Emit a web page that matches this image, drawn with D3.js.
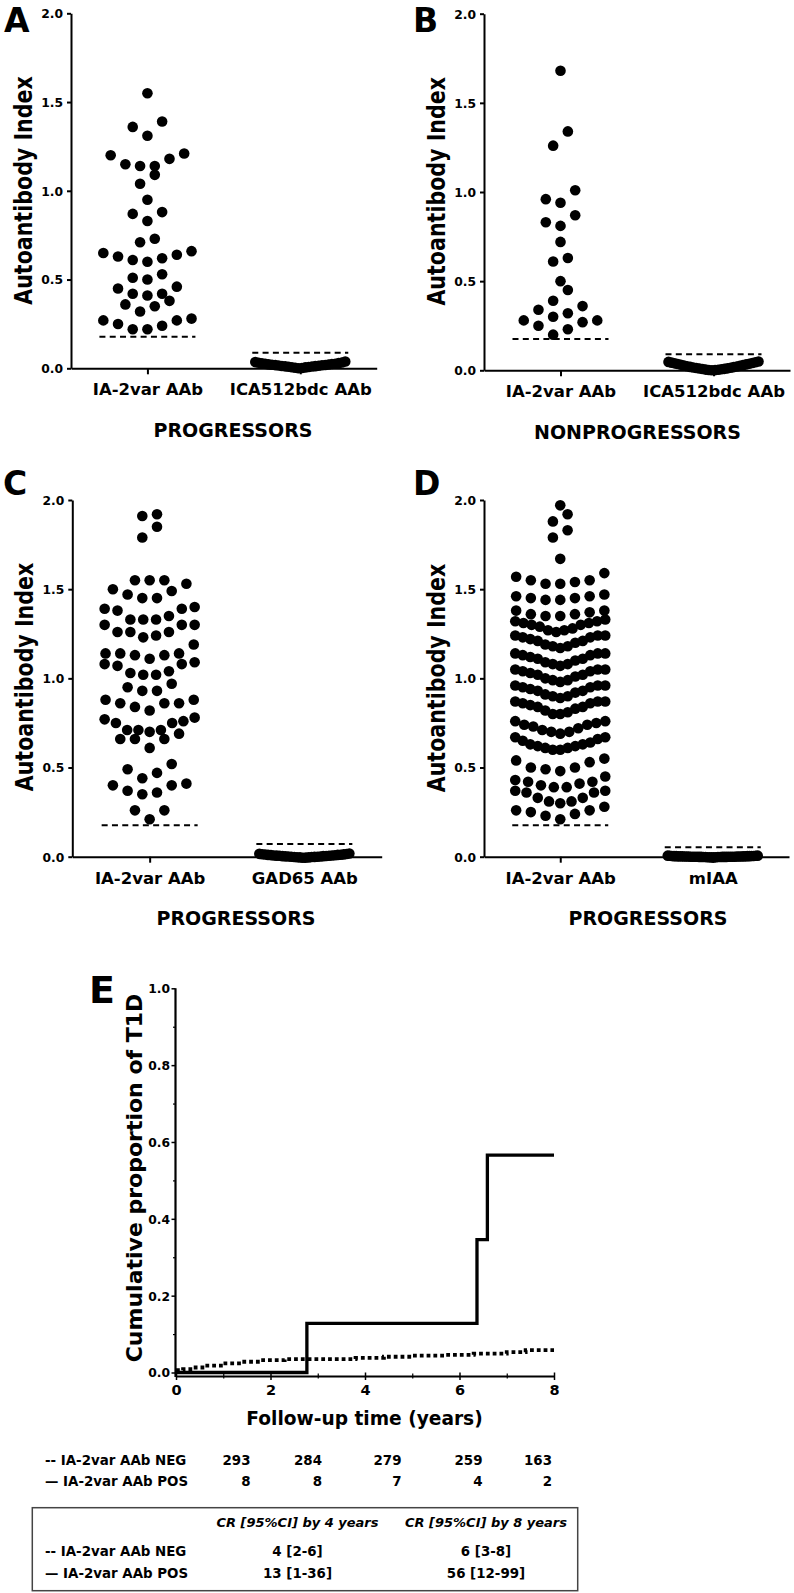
<!DOCTYPE html>
<html>
<head>
<meta charset="utf-8">
<script src="https://cdn.jsdelivr.net/npm/d3@7"></script>
<style>
  html, body { margin: 0; padding: 0; background: #fff; overflow: hidden; }
  svg { display: block; }
</style>
</head>
<body>
<script>
// ---------------- DATA ----------------
const panelLetters = ["A", "B", "C", "D"];
const catsA = ["IA-2var AAb", "ICA512bdc AAb"];
const catsB = ["IA-2var AAb", "ICA512bdc AAb"];
const catsC = ["IA-2var AAb", "GAD65 AAb"];
const catsD = ["IA-2var AAb", "mIAA"];
const groupTitles = ["PROGRESSORS", "NONPROGRESSORS", "PROGRESSORS", "PROGRESSORS"];
const yTicksAD = [0, 0.5, 1.0, 1.5, 2.0];
const yLabelAD = "Autoantibody Index";

// Panel A: progressors
const iaA = [1.55, 1.39, 1.36, 1.31, 1.21, 1.20, 1.18, 1.14, 1.14, 1.15, 1.09, 1.04, 0.95,
  0.88, 0.87, 0.83, 0.73, 0.71, 0.66, 0.65, 0.64, 0.63, 0.62, 0.61, 0.60,
  0.53, 0.51, 0.50, 0.46, 0.45, 0.42, 0.42, 0.41, 0.38, 0.36, 0.35, 0.32,
  0.28, 0.27, 0.27, 0.25, 0.24, 0.22, 0.22];
const icaA = [0.000, 0.002, 0.003, 0.005, 0.006, 0.007, 0.009, 0.010, 0.011, 0.012, 0.013, 0.014,
  0.016, 0.017, 0.018, 0.019, 0.020, 0.021, 0.022, 0.024, 0.025, 0.026, 0.028, 0.029,
  0.031, 0.033, 0.035, 0.038];
const thrA = [0.178, 0.088];

// Panel B: nonprogressors
const iaB = [1.68, 1.34, 1.26, 1.01, 0.96, 0.94, 0.87, 0.83, 0.81, 0.72, 0.63, 0.61, 0.50, 0.45,
  0.39, 0.36, 0.34, 0.32, 0.30, 0.28, 0.28, 0.27, 0.25, 0.23, 0.20];
const icaB = [0.000, 0.001, 0.002, 0.003, 0.004, 0.006, 0.007, 0.008, 0.010, 0.011, 0.013, 0.014,
  0.016, 0.018, 0.019, 0.021, 0.023, 0.025, 0.027, 0.029, 0.031, 0.033, 0.035, 0.037,
  0.039, 0.041, 0.043, 0.045, 0.047, 0.049];
const thrB = [0.176, 0.090];

// Panel C: progressors, GAD65
const iaC = [1.91, 1.92, 1.85, 1.79, 1.53, 1.55, 1.55, 1.55, 1.50, 1.49, 1.45, 1.45, 1.47,
  1.38, 1.39, 1.40, 1.39, 1.35, 1.33, 1.33, 1.33, 1.30, 1.30, 1.30, 1.26, 1.24, 1.23, 1.26, 1.26,
  1.19, 1.14, 1.13, 1.13, 1.14, 1.14, 1.11, 1.09, 1.08, 1.08, 1.07, 1.04, 1.02, 1.02, 1.03,
  0.95, 0.93, 0.93, 0.97, 0.88, 0.86, 0.84, 0.82, 0.86, 0.86, 0.88,
  0.78, 0.76, 0.75, 0.71, 0.70, 0.71, 0.71, 0.75, 0.77, 0.66, 0.66, 0.66, 0.69, 0.61,
  0.49, 0.52, 0.47, 0.41, 0.44, 0.40, 0.40, 0.36, 0.35, 0.37, 0.26, 0.26, 0.21];
const gadC = [-0.006, -0.005, -0.004, -0.004, -0.003, -0.002, -0.002, -0.001, 0.000, 0.000, 0.001,
  0.001, 0.002, 0.003, 0.003, 0.004, 0.005, 0.005, 0.006, 0.007, 0.007, 0.008, 0.009, 0.010,
  0.010, 0.011, 0.012, 0.013, 0.014, 0.015, 0.016, 0.018];
const thrC = [0.176, 0.071];

// Panel D: progressors, mIAA
const iaD = [
  0.21, 0.23, 0.24, 0.25, 0.26, 0.26, 0.28,
  0.30, 0.31, 0.31, 0.33, 0.33, 0.36, 0.36, 0.37, 0.37,
  0.39, 0.39, 0.40, 0.41, 0.42, 0.42, 0.43, 0.45,
  0.48, 0.49, 0.50, 0.50, 0.53, 0.54, 0.55,
  0.60, 0.60, 0.61, 0.61, 0.62, 0.62, 0.63, 0.63, 0.64, 0.65, 0.66, 0.67, 0.67,
  0.69, 0.70, 0.70, 0.71, 0.72, 0.73, 0.74, 0.74, 0.75, 0.76, 0.76,
  0.80, 0.80, 0.81, 0.82, 0.83, 0.84, 0.84, 0.85, 0.86, 0.86, 0.87, 0.87, 0.87,
  0.89, 0.90, 0.90, 0.91, 0.92, 0.93, 0.93, 0.94, 0.95, 0.95, 0.96, 0.96, 0.96,
  0.98, 0.99, 0.99, 1.00, 1.01, 1.02, 1.02, 1.03, 1.04, 1.04, 1.05, 1.05, 1.05,
  1.07, 1.08, 1.08, 1.09, 1.10, 1.11, 1.11, 1.12, 1.13, 1.13, 1.14, 1.14, 1.14,
  1.17, 1.18, 1.18, 1.19, 1.20, 1.21, 1.21, 1.22, 1.23, 1.23, 1.24, 1.24, 1.24,
  1.26, 1.27, 1.27, 1.28, 1.29, 1.30, 1.30, 1.31, 1.31, 1.32, 1.32, 1.33,
  1.35, 1.35, 1.36, 1.36, 1.37, 1.38, 1.38,
  1.44, 1.44, 1.45, 1.45, 1.46, 1.46, 1.47,
  1.53, 1.53, 1.54, 1.55, 1.55, 1.57, 1.59,
  1.67, 1.79, 1.83, 1.88, 1.92, 1.97];
const miaaD = [-0.004, -0.004, -0.003, -0.003, -0.003, -0.002, -0.002, -0.002, -0.002, -0.001,
  -0.001, -0.001, -0.001, -0.001, 0.000, 0.000, 0.000, 0.000, 0.000, 0.000, 0.000, 0.000,
  0.001, 0.001, 0.001, 0.001, 0.001, 0.001, 0.002, 0.002, 0.002, 0.002, 0.002, 0.003, 0.003,
  0.003, 0.003, 0.004, 0.004, 0.004, 0.005, 0.005, 0.006, 0.006];
const thrD = [0.176, 0.053];

// Panel E: Kaplan-Meier cumulative proportion of T1D
const kmPosTimes = [0, 2.77, 6.37, 6.59, 8];
const kmPosVals = [0, 0.128, 0.346, 0.566, 0.566];
const kmNegTimes = [0, 0.15, 0.35, 0.6, 1.0, 1.4, 1.8, 2.3, 3.8, 4.4, 5.0, 5.7, 6.3, 7.0, 7.4, 8];
const kmNegVals = [0.006, 0.009, 0.013, 0.018, 0.024, 0.028, 0.032, 0.035, 0.038, 0.041, 0.044, 0.046, 0.049, 0.053, 0.058, 0.058];
const eXTicks = [0, 2, 4, 6, 8];
const eXMinor = [1, 3, 5, 7];
const eYTicks = [0, 0.2, 0.4, 0.6, 0.8, 1.0];
const eYMinor = [0.1, 0.3, 0.5, 0.7, 0.9];
const eXLabel = "Follow-up time (years)";
const eYLabel = "Cumulative proportion of T1D";

// Number at risk
const riskLabels = ["-- IA-2var AAb NEG", "\u2014 IA-2var AAb POS"];
const riskNeg = [293, 284, 279, 259, 163];
const riskPos = [8, 8, 7, 4, 2];

// CR table
const crHeaders = ["CR [95%CI] by 4 years", "CR [95%CI] by 8 years"];
const crNeg = ["4 [2-6]", "6 [3-8]"];
const crPos = ["13 [1-36]", "56 [12-99]"];

// ---------------- LAYOUT ----------------
const FONT = "'DejaVu Sans', 'Liberation Sans', Arial, sans-serif";
const svg = d3.select("body").append("svg").attr("width", 794).attr("height", 1593)
  .attr("font-family", FONT);

const dotR = 5.3, rowH = 0.08, dotStep = 14.7, halfW = 45;

function swarm(values) {
  const s = values.slice().sort(d3.ascending);
  const out = [];
  let i = 0;
  while (i < s.length) {
    const start = s[i];
    const row = [];
    while (i < s.length && s[i] <= start + rowH + 1e-6) { row.push(s[i]); i++; }
    const n = row.length;
    const step = n > 1 ? Math.min(dotStep, 2 * halfW / (n - 1)) : 0;
    row.forEach((v, k) => {
      let slot;
      if (n % 2 === 1) {
        slot = k === 0 ? 0 : (k % 2 === 1 ? -Math.ceil(k / 2) : Math.ceil(k / 2));
      } else {
        const m = Math.floor(k / 2);
        slot = k % 2 === 0 ? -(m + 0.5) : (m + 0.5);
      }
      out.push({ v, dx: slot * step });
    });
  }
  return out;
}

const panels = [
  { letter: panelLetters[0], lx: 4, ly: 32, x0: 71, x1: 376.7, yb: 368.3, yt: 13.3, cats: catsA, series: [iaA, icaA], thr: thrA, title: groupTitles[0], gx: 233, tx: 32, ty: 190.5 },
  { letter: panelLetters[1], lx: 413, ly: 32, x0: 484, x1: 790, yb: 370.3, yt: 13.7, cats: catsB, series: [iaB, icaB], thr: thrB, title: groupTitles[1], gx: 637.5, tx: 445, ty: 191.3 },
  { letter: panelLetters[2], lx: 3, ly: 495, x0: 72.3, x1: 381.7, yb: 856.7, yt: 500, cats: catsC, series: [iaC, gadC], thr: thrC, title: groupTitles[2], gx: 236, tx: 33, ty: 677 },
  { letter: panelLetters[3], lx: 413, ly: 495, x0: 484, x1: 789, yb: 856.7, yt: 500, cats: catsD, series: [iaD, miaaD], thr: thrD, title: groupTitles[3], gx: 648, tx: 445, ty: 678 }
];

panels.forEach(p => {
  const g = svg.append("g");
  const y = d3.scaleLinear().domain([0, 2]).range([p.yb, p.yt]);
  const x = d3.scalePoint().domain(p.cats).range([p.x0, p.x1]).padding(0.5);

  p.cats.forEach((c, ci) => {
    const pts = swarm(p.series[ci]);
    g.append("g").selectAll("circle").data(pts).join("circle")
      .attr("cx", d => x(c) + d.dx)
      .attr("cy", d => y(d.v))
      .attr("r", dotR)
      .attr("fill", "#000");
    g.append("line")
      .attr("x1", x(c) - 48).attr("x2", x(c) + 48)
      .attr("y1", y(p.thr[ci])).attr("y2", y(p.thr[ci]))
      .attr("stroke", "#000").attr("stroke-width", 2)
      .attr("stroke-dasharray", "6,4.3");
  });

  const ya = g.append("g").attr("transform", `translate(${p.x0},0)`)
    .call(d3.axisLeft(y).tickValues(yTicksAD).tickFormat(d3.format(".1f"))
      .tickSize(4).tickSizeOuter(0).tickPadding(4));
  ya.select(".domain").attr("stroke-width", 2);
  ya.selectAll(".tick line").attr("stroke-width", 2);
  ya.selectAll(".tick text").attr("font-family", FONT).attr("font-size", 12.3)
    .attr("font-weight", "bold").attr("dy", "0.36em").attr("fill", "#000");

  const xa = g.append("g").attr("transform", `translate(0,${p.yb})`)
    .call(d3.axisBottom(x).tickSize(6).tickSizeOuter(0));
  xa.select(".domain").attr("stroke-width", 2);
  xa.selectAll(".tick line").attr("stroke-width", 2);
  xa.selectAll(".tick text").attr("font-family", FONT).attr("font-size", 16.5)
    .attr("font-weight", "bold").attr("y", 27).attr("dy", "0").attr("fill", "#000");

  g.append("text")
    .attr("transform", `translate(${p.tx},${p.ty}) scale(1.18,1) rotate(-90)`)
    .attr("text-anchor", "middle").attr("font-size", 20.6).attr("font-weight", "bold")
    .text(yLabelAD);

  g.append("text").attr("x", p.gx).attr("y", p.yb + 68.4)
    .attr("text-anchor", "middle").attr("font-size", 19).attr("font-weight", "bold")
    .text(p.title);

  g.append("text").attr("x", p.lx).attr("y", p.ly)
    .attr("font-size", 33).attr("font-weight", "bold").text(p.letter);
});

// ---------------- PANEL E ----------------
const gE = svg.append("g");
const xE = d3.scaleLinear().domain([0, 8]).range([176, 554]);
const yE = d3.scaleLinear().domain([0, 1]).range([1372.5, 988.3]);
const axisY = 1376;

const yaE = gE.append("g").attr("transform", `translate(175.5,0)`)
  .call(d3.axisLeft(yE).tickValues(eYTicks).tickFormat(d3.format(".1f"))
    .tickSize(4).tickSizeOuter(0).tickPadding(1.5));
yaE.select(".domain").remove();
yaE.selectAll(".tick line").attr("stroke-width", 1.5);
yaE.selectAll(".tick text").attr("font-family", FONT).attr("font-size", 12.3)
  .attr("font-weight", "bold").attr("dy", "0.36em").attr("fill", "#000");
const yaEm = gE.append("g").attr("transform", `translate(175.5,0)`)
  .call(d3.axisLeft(yE).tickValues(eYMinor).tickFormat("").tickSize(2.5).tickSizeOuter(0));
yaEm.select(".domain").remove();
yaEm.selectAll(".tick line").attr("stroke-width", 1.2);
gE.append("line").attr("x1", 175.5).attr("x2", 175.5)
  .attr("y1", yE(1)).attr("y2", axisY + 1)
  .attr("stroke", "#000").attr("stroke-width", 2.2);

const xaE = gE.append("g").attr("transform", `translate(0,${axisY})`)
  .call(d3.axisBottom(xE).tickValues(eXTicks).tickFormat(d3.format("d")).tickSize(4).tickSizeOuter(0));
xaE.select(".domain").attr("stroke-width", 2.2);
xaE.selectAll(".tick line").attr("y1", -3.5).attr("y2", 4).attr("stroke-width", 1.5);
xaE.selectAll(".tick text").attr("font-family", FONT).attr("font-size", 14.5)
  .attr("font-weight", "bold").attr("y", 19).attr("dy", "0").attr("fill", "#000");
const xaEm = gE.append("g").attr("transform", `translate(0,${axisY})`)
  .call(d3.axisBottom(xE).tickValues(eXMinor).tickFormat("").tickSize(2.5).tickSizeOuter(0));
xaEm.select(".domain").remove();
xaEm.selectAll(".tick line").attr("y1", -2.5).attr("y2", 2.5).attr("stroke-width", 1.2);

const line = d3.line().x(d => xE(d.t)).y(d => yE(d.v)).curve(d3.curveStepAfter);
const negData = kmNegTimes.map((t, i) => ({ t, v: kmNegVals[i] }));
const posData = kmPosTimes.map((t, i) => ({ t, v: kmPosVals[i] }));
gE.append("path").datum(negData).attr("d", line)
  .attr("fill", "none").attr("stroke", "#000").attr("stroke-width", 3.8)
  .attr("stroke-dasharray", "3.8,3");
gE.append("path").datum(posData).attr("d", line)
  .attr("fill", "none").attr("stroke", "#000").attr("stroke-width", 3.3)
  .attr("stroke-linejoin", "miter");

gE.append("text").attr("transform", `translate(142,1178) rotate(-90)`)
  .attr("text-anchor", "middle").attr("font-size", 22).attr("font-weight", "bold")
  .text(eYLabel);
gE.append("text").attr("x", 364.5).attr("y", 1425)
  .attr("text-anchor", "middle").attr("font-size", 18.6).attr("font-weight", "bold")
  .text(eXLabel);
gE.append("text").attr("x", 89).attr("y", 1003)
  .attr("font-size", 38).attr("font-weight", "bold").text("E");

const riskColRight = [250.5, 322, 401.5, 482.5, 552];
const riskRowsY = [1465, 1486];
const gR = svg.append("g").attr("font-size", 13.4).attr("font-weight", "bold");
[riskNeg, riskPos].forEach((row, ri) => {
  gR.append("text").attr("x", 45).attr("y", riskRowsY[ri]).text(riskLabels[ri]);
  gR.selectAll(null).data(row).join("text")
    .attr("x", (d, i) => riskColRight[i]).attr("y", riskRowsY[ri])
    .attr("text-anchor", "end").text(d => d);
});

const gT = svg.append("g");
gT.append("rect").attr("x", 32.3).attr("y", 1507.7).attr("width", 545.4).attr("height", 83)
  .attr("fill", "none").attr("stroke", "#444").attr("stroke-width", 1.5);
const crColX = [297.5, 486];
gT.selectAll(null).data(crHeaders).join("text")
  .attr("x", (d, i) => crColX[i]).attr("y", 1527)
  .attr("text-anchor", "middle").attr("font-size", 13).attr("font-weight", "bold")
  .attr("font-style", "italic").text(d => d);
const crRowsY = [1556, 1578.3];
[crNeg, crPos].forEach((row, ri) => {
  gT.append("text").attr("x", 45).attr("y", crRowsY[ri])
    .attr("font-size", 13.4).attr("font-weight", "bold").text(riskLabels[ri]);
  gT.selectAll(null).data(row).join("text")
    .attr("x", (d, i) => crColX[i]).attr("y", crRowsY[ri])
    .attr("text-anchor", "middle").attr("font-size", 13.4).attr("font-weight", "bold")
    .text(d => d);
});
</script>
</body>
</html>
